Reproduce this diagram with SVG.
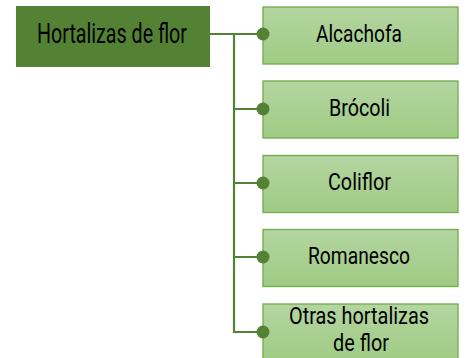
<svg xmlns="http://www.w3.org/2000/svg" width="466" height="358" viewBox="0 0 466 358">
<defs>
<linearGradient id="g" x1="0" y1="0" x2="0" y2="1">
<stop offset="0" stop-color="#b4d5a1"/>
<stop offset="1" stop-color="#9fcb84"/>
</linearGradient>
<style>
.t{font-family:"Roboto","Liberation Sans",sans-serif;font-size:24.5px;fill:#000;text-anchor:middle}
.r{font-size:27px}
.c{fill:url(#g);stroke:#70ad47;stroke-width:1.3}
.l{fill:none;stroke:#548235;stroke-width:2.2}
.d{fill:#548235}
</style>
</defs>
<rect width="466" height="358" fill="#fff"/>
<g id="root">
<rect x="16" y="6" width="194" height="61" fill="#548235"/>
<text class="t r" x="112" y="42.7" textLength="150" lengthAdjust="spacingAndGlyphs">Hortalizas de flor</text>
</g>
<g id="alcachofa">
<rect class="c" x="263" y="7" width="195" height="57"/>
<text class="t" x="359" y="41.7" textLength="86" lengthAdjust="spacingAndGlyphs">Alcachofa</text>
</g>
<g id="brocoli">
<rect class="c" x="263" y="81" width="195" height="57"/>
<text class="t" x="359.5" y="115.5" textLength="61" lengthAdjust="spacingAndGlyphs">Brócoli</text>
</g>
<g id="coliflor">
<rect class="c" x="263" y="155.5" width="195" height="57"/>
<text class="t" x="359.5" y="190" textLength="63" lengthAdjust="spacingAndGlyphs">Coliflor</text>
</g>
<g id="romanesco">
<rect class="c" x="263" y="229.5" width="195" height="57"/>
<text class="t" x="359" y="264" textLength="102" lengthAdjust="spacingAndGlyphs">Romanesco</text>
</g>
<g id="otras">
<rect class="c" x="263" y="304" width="195" height="57"/>
<text class="t" x="359" y="323.5" textLength="140" lengthAdjust="spacingAndGlyphs">Otras hortalizas</text>
<text class="t" x="361" y="351" textLength="56" lengthAdjust="spacingAndGlyphs">de flor</text>
</g>
<g id="connectors">
<path class="l" d="M210 34H263M234 34V332H263M234 109H263M234 183H263M234 257H263"/>
<circle class="d" cx="263" cy="34" r="6.5"/>
<circle class="d" cx="263" cy="109" r="6.5"/>
<circle class="d" cx="263" cy="183" r="6.5"/>
<circle class="d" cx="263" cy="257" r="6.5"/>
<circle class="d" cx="263" cy="332" r="6.5"/>
</g>
</svg>
